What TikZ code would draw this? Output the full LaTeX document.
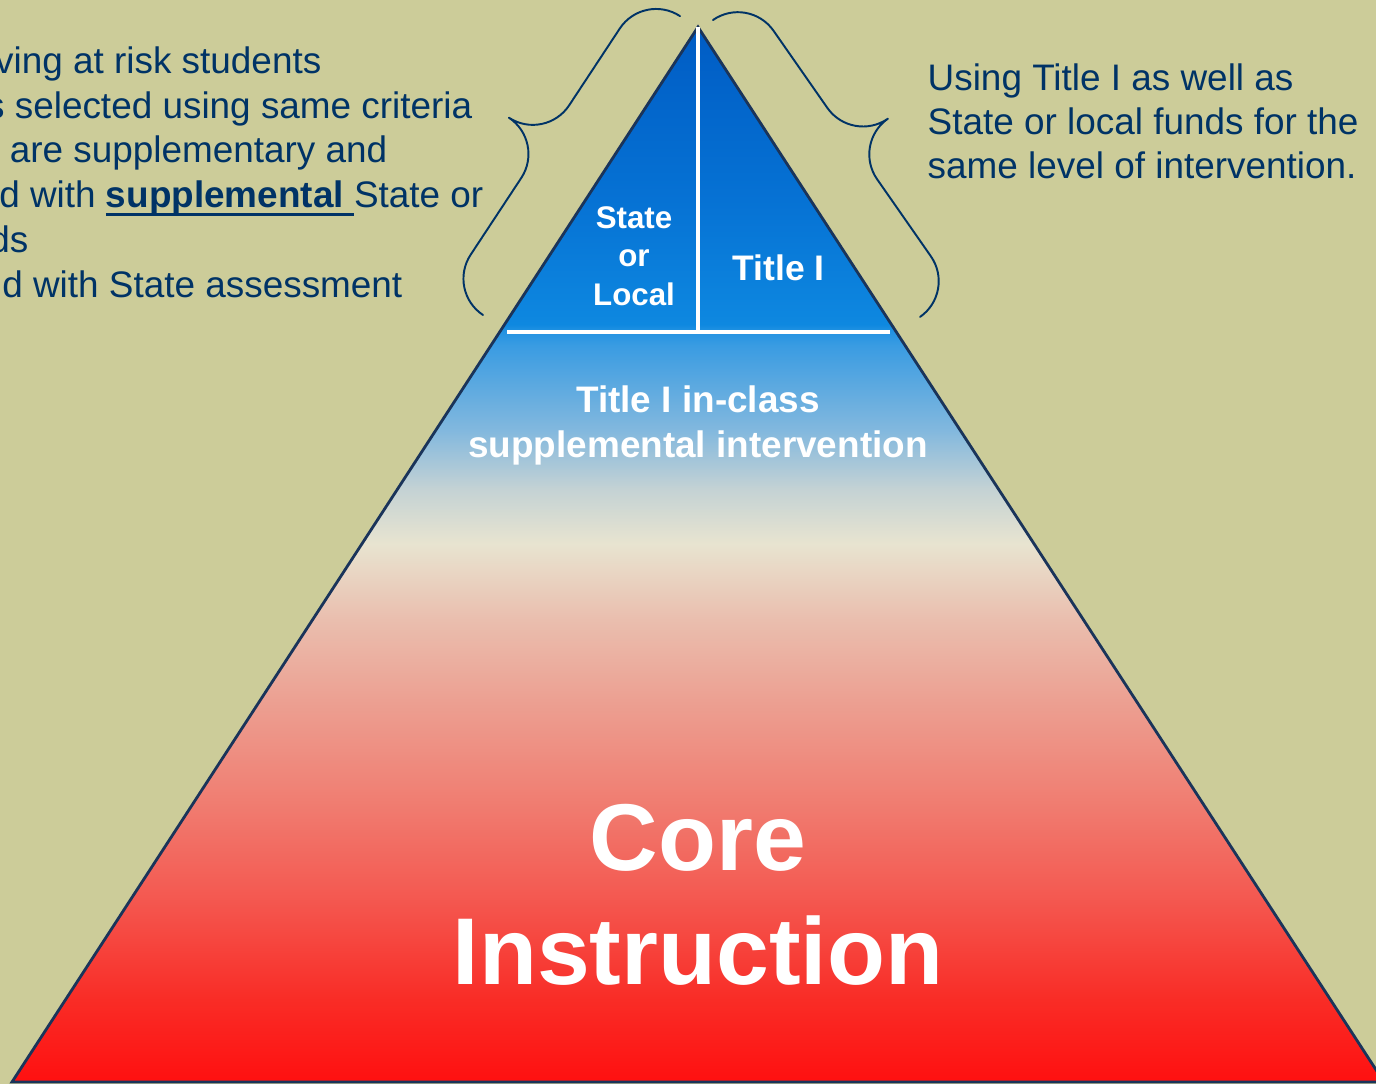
\documentclass[tikz,border=0pt]{standalone}
\usepackage{fontspec}
\setmainfont{Liberation Sans}
\usetikzlibrary{calc}

\definecolor{khaki}{RGB}{204,204,153}
\definecolor{navytext}{RGB}{0,51,102}
\definecolor{pyredge}{RGB}{26,52,90}
\definecolor{fadeA}{RGB}{255,16,16}
\definecolor{fadeB}{RGB}{249,44,38}
\definecolor{fadeC}{RGB}{244,88,80}
\definecolor{fadeD}{RGB}{240,126,114}
\definecolor{fadeE}{RGB}{236,160,146}
\definecolor{fadeF}{RGB}{234,190,174}
\definecolor{fadeG}{RGB}{232,228,208}
\definecolor{fadeH}{RGB}{196,210,212}
\definecolor{fadeI}{RGB}{130,184,222}
\definecolor{fadeJ}{RGB}{58,156,226}
\definecolor{fadeK}{RGB}{34,146,226}
\definecolor{fadeL}{RGB}{14,136,224}
\definecolor{fadeM}{RGB}{6,114,212}
\definecolor{fadeN}{RGB}{0,92,196}

% pyramid fill, red at the base up to blue at the apex
\pgfdeclareverticalshading{pyramidfade}{100bp}{%
  color(0bp)=(fadeA); color(25bp)=(fadeA); color(28.9bp)=(fadeB);
  color(33.7bp)=(fadeC); color(38.4bp)=(fadeD); color(43.1bp)=(fadeE);
  color(46.9bp)=(fadeF); color(50.5bp)=(fadeG); color(53.1bp)=(fadeH);
  color(55.9bp)=(fadeI); color(59.9bp)=(fadeJ); color(60.6bp)=(fadeK);
  color(60.9bp)=(fadeL); color(66.8bp)=(fadeM); color(75bp)=(fadeN);
  color(100bp)=(fadeN)}

\newcommand{\ulbold}[1]{\setbox0\hbox{\bfseries #1}\rlap{\rule[-2.55pt]{\wd0}{0.85pt}}\box0}

\begin{document}
\begin{tikzpicture}[line cap=round,line join=round,x=1cm,y=1cm,
  sidetext/.style={text=navytext,font=\fontsize{10.5}{12.5}\selectfont,inner sep=0pt},
  tiertext/.style={text=white,align=center,inner sep=0pt},
  bracepath/.style={draw=navytext,line width=0.55pt}]
\useasboundingbox (0,0) rectangle (13.76,10.84);
\fill[khaki] (0,0) rectangle (13.76,10.84);
\clip (0,0) rectangle (13.76,10.84);

% pyramid
\coordinate (apex) at (6.98,10.57);
\coordinate (bl) at (0.12,0.02);
\coordinate (br) at (13.84,0.02);
\coordinate (divL) at (5.07,7.52);
\coordinate (divR) at (8.90,7.52);
\coordinate (divM) at (6.98,7.52);
\path[shading=pyramidfade] (bl) -- (apex) -- (br) -- cycle;
\draw[pyredge,line width=0.8pt,line join=miter] (bl) -- (apex) -- (br) -- cycle;
\draw[white,line width=0.9pt,line cap=butt] (divL) -- (divR);
\draw[white,line width=0.9pt,line cap=butt] (apex) -- (divM);

% braces
\coordinate (lbLow) at (4.83,7.69);
\coordinate (rbTop) at (7.13,10.64);
\begin{scope}[shift={(lbLow)},rotate=56.6]
  \draw[bracepath] (0,0) arc[start angle=180,end angle=90,radius=0.435] -- (1.355,0.435)
    arc[start angle=270,end angle=360,radius=0.435]
    arc[start angle=180,end angle=270,radius=0.435] -- (3.145,0.435)
    arc[start angle=90,end angle=0,radius=0.435];
\end{scope}
\begin{scope}[shift={(rbTop)},rotate=-55.1]
  \draw[bracepath] (0,0) arc[start angle=180,end angle=90,radius=0.435] -- (1.375,0.435)
    arc[start angle=270,end angle=360,radius=0.435]
    arc[start angle=180,end angle=270,radius=0.435] -- (3.185,0.435)
    arc[start angle=90,end angle=0,radius=0.435];
\end{scope}

% tiers
\node[tiertext,font=\bfseries\fontsize{8.9}{10.9}\selectfont] (stateLocal) at (6.34,8.28) {State\\or\\Local};
\node[tiertext,font=\bfseries\fontsize{10.1}{12}\selectfont,anchor=base] (titleOne) at (7.785,8.04) {Title I};
\node[tiertext,font=\bfseries\fontsize{10.5}{12.8}\selectfont] (inClass) at (6.98,6.59) {Title I in-class\\supplemental intervention};
\node[tiertext,font=\bfseries\fontsize{27}{32.4}\selectfont] (core) at (6.98,1.895) {Core\\Instruction};

% side notes
\node[sidetext,align=left,anchor=north west] (sameLevel) at (9.27,10.21) {Using Title I as well as\\State or local funds for the\\same level of intervention.};
\node[sidetext,anchor=base east] (atRisk) at (3.22,10.11) {ving at risk students};
\node[sidetext,anchor=base east] (criteria) at (4.73,9.66) {s selected using same criteria};
\node[sidetext,anchor=base east] (suppl) at (3.88,9.22) {are supplementary and};
\node[sidetext,anchor=base east] (funded) at (4.84,8.77) {d with \ulbold{supplemental }State or};
\node[sidetext,anchor=base east] (funds) at (0.29,8.32) {ds};
\node[sidetext,anchor=base east] (aligned) at (4.03,7.87) {d with State assessment};
\end{tikzpicture}
\end{document}
